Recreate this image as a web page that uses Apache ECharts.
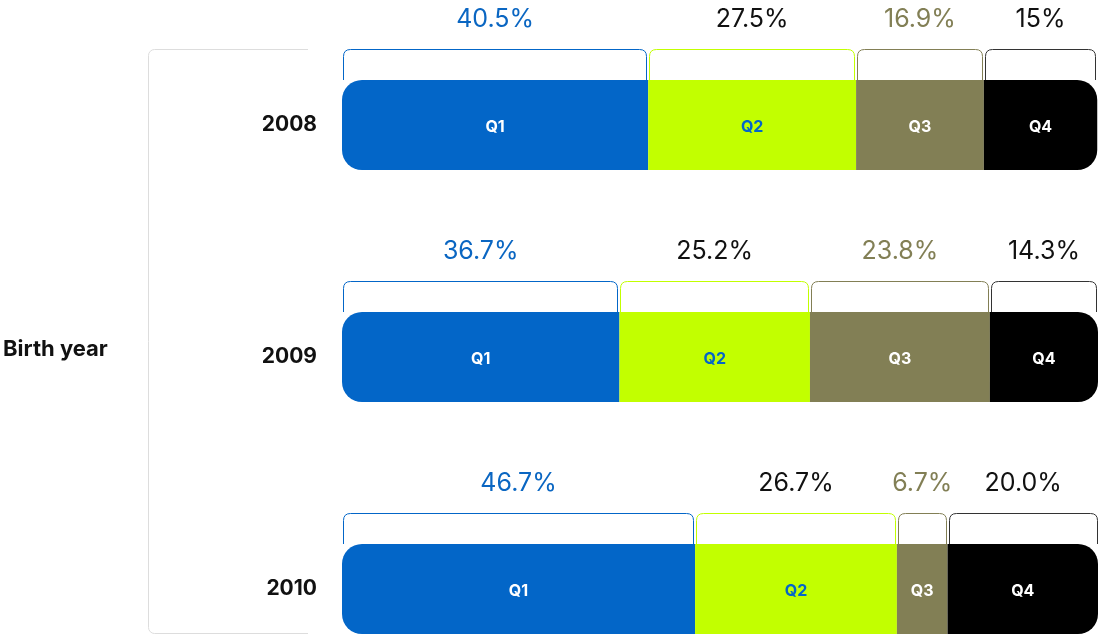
<!DOCTYPE html>
<html>
<head>
<meta charset="utf-8">
<script src="https://cdn.jsdelivr.net/npm/echarts@6/dist/echarts.min.js"></script>
<style>
  html, body { margin: 0; padding: 0; background: #fff; }
  #chart { width: 1099px; height: 636px; }
</style>
</head>
<body>
<div id="chart"></div>
<script>
var years = ['2008', '2009', '2010'];
var quarters = ['Q1', 'Q2', 'Q3', 'Q4'];
// share per quarter, as printed above each segment
var q1 = ['40.5', '36.7', '46.7'];
var q2 = ['27.5', '25.2', '26.7'];
var q3 = ['16.9', '23.8', '6.7'];
var q4 = ['15', '14.3', '20.0'];

var shares = [q1, q2, q3, q4];
var fills = ['#0366c8', '#c2ff00', '#827f55', '#000000'];
var insideText = ['#ffffff', '#0366c8', '#ffffff', '#ffffff'];
var pctText = ['#0a66c2', '#111111', '#827f55', '#111111'];
var font = 'Inter, "Noto Sans", sans-serif';

var chart = echarts.init(document.getElementById('chart'));

// start/end of each segment, for the brackets and labels above the bars
var segs = [];
years.forEach(function (y, yi) {
  var acc = 0;
  shares.forEach(function (arr, qi) {
    var v = Number(arr[yi]);
    segs.push([acc, acc + v, yi, qi, arr[yi] + '%']);
    acc += v;
  });
});

var barSeries = shares.map(function (arr, qi) {
  var radius = [0, 0, 0, 0];
  if (qi === 0) radius = [20, 0, 0, 20];
  if (qi === shares.length - 1) radius = [0, 20, 20, 0];
  return {
    name: quarters[qi],
    type: 'bar',
    stack: 'total',
    barWidth: 90,
    data: arr.map(Number),
    itemStyle: { color: fills[qi], borderRadius: radius },
    label: {
      show: true,
      position: 'inside',
      offset: [0, 2],
      formatter: quarters[qi],
      color: insideText[qi],
      fontSize: 16,
      fontWeight: 'bold',
      fontFamily: font
    },
    silent: true
  };
});

var bracketSeries = {
  type: 'custom',
  data: segs,
  silent: true,
  clip: false,
  renderItem: function (params, api) {
    var p0 = api.coord([api.value(0), api.value(2)]);
    var p1 = api.coord([api.value(1), api.value(2)]);
    var qi = api.value(3);
    var x0 = Math.round(p0[0]) + 1.5, x1 = Math.round(p1[0]) - 1.5;
    var bottom = Math.round(p0[1] - 45);
    var top = bottom - 30.5;
    var r = 7;
    var d = 'M' + x0 + ' ' + bottom + ' L' + x0 + ' ' + (top + r) +
      ' Q' + x0 + ' ' + top + ' ' + (x0 + r) + ' ' + top +
      ' L' + (x1 - r) + ' ' + top +
      ' Q' + x1 + ' ' + top + ' ' + x1 + ' ' + (top + r) +
      ' L' + x1 + ' ' + bottom;
    return {
      type: 'group',
      children: [
        {
          type: 'path',
          shape: { pathData: d },
          style: { fill: null, stroke: qi === 3 ? '#333333' : fills[qi], lineWidth: 1 }
        },
        {
          type: 'text',
          x: (p0[0] + p1[0]) / 2,
          y: bottom - 61,
          style: {
            text: segs[params.dataIndex][4],
            fill: pctText[qi],
            fontSize: 25,
            fontFamily: font,
            align: 'center',
            verticalAlign: 'middle'
          }
        }
      ]
    };
  }
};

var edge = { stroke: '#dddddd', lineWidth: 1 };

var option = {
  animation: false,
  grid: { left: 342, right: 1, top: 125, bottom: 47 },
  xAxis: { type: 'value', min: 0, max: 100, show: false },
  yAxis: {
    type: 'category',
    data: years,
    inverse: true,
    boundaryGap: false,
    axisLine: { show: false },
    axisTick: { show: false },
    splitLine: { show: false },
    axisLabel: {
      margin: 25,
      fontSize: 21,
      fontWeight: 'bold',
      color: '#111111',
      fontFamily: font
    }
  },
  graphic: [
    { type: 'line', silent: true, shape: { x1: 154.5, y1: 49.5, x2: 308, y2: 49.5 }, style: edge },
    { type: 'line', silent: true, shape: { x1: 148.5, y1: 55.5, x2: 148.5, y2: 627.5 }, style: edge },
    { type: 'line', silent: true, shape: { x1: 154.5, y1: 633.5, x2: 308, y2: 633.5 }, style: edge },
    { type: 'arc', silent: true, shape: { cx: 154.5, cy: 55.5, r: 6, startAngle: Math.PI, endAngle: Math.PI * 1.5 }, style: edge },
    { type: 'arc', silent: true, shape: { cx: 154.5, cy: 627.5, r: 6, startAngle: Math.PI * 0.5, endAngle: Math.PI }, style: edge },
    {
      type: 'text',
      left: 3,
      top: 338,
      style: {
        text: 'Birth year',
        fill: '#111111',
        font: 'bold 22px ' + font
      }
    }
  ],
  series: barSeries.concat([bracketSeries])
};

chart.setOption(option);
</script>
</body>
</html>
